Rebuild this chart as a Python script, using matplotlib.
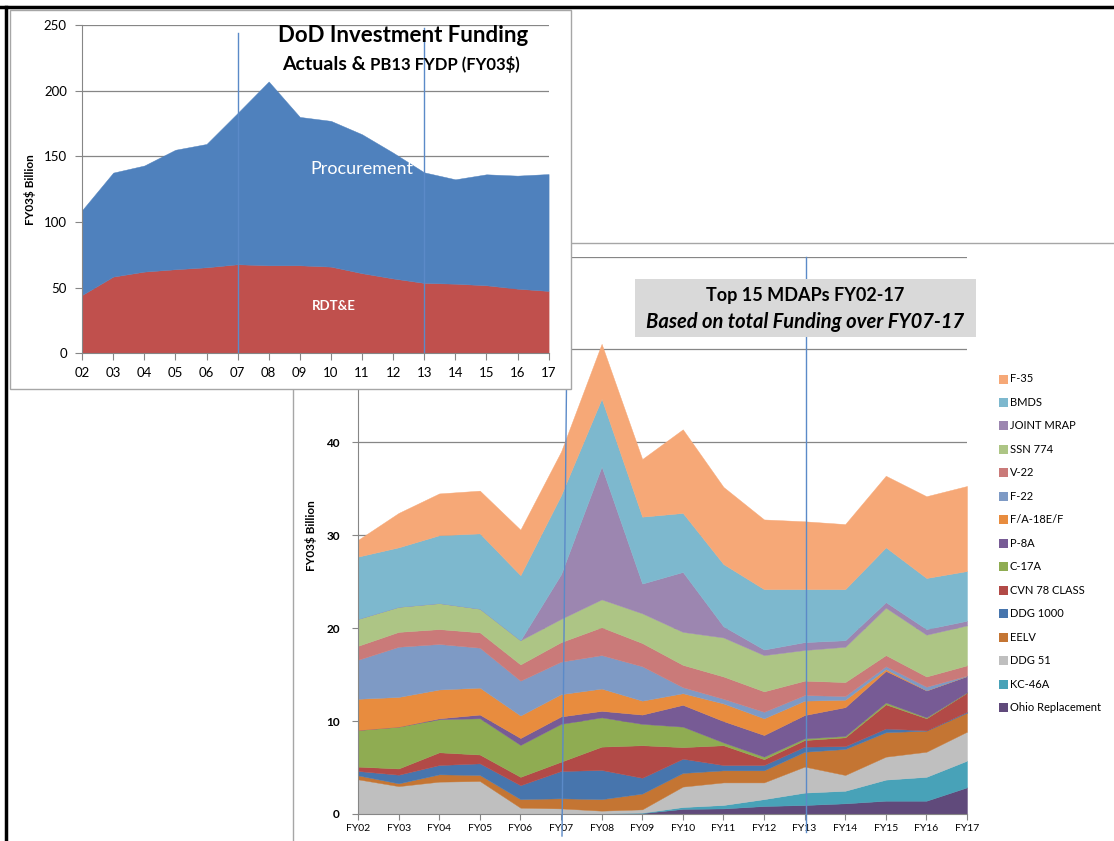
import matplotlib
matplotlib.use("Agg")
import matplotlib.pyplot as plt
from matplotlib.patches import Rectangle
from matplotlib.lines import Line2D

plt.rcParams['font.family'] = ['Lato', 'DejaVu Sans']

# ---- inset: DoD investment funding (FY03$ billion) ----
inset_years = ['02', '03', '04', '05', '06', '07', '08', '09',
               '10', '11', '12', '13', '14', '15', '16', '17']
rdte = [44.4, 58.4, 62.2, 64.0, 65.5, 67.8, 67.0, 67.0,
        66.0, 61.0, 57.0, 53.6, 53.0, 51.8, 49.2, 47.5]
procurement = [64.6, 79.2, 80.8, 91.0, 93.9, 115.2, 140.0, 113.0,
               111.0, 105.8, 95.8, 84.2, 79.5, 84.5, 86.1, 89.0]

# ---- main chart: top 15 MDAPs (FY03$ billion), bottom of stack first ----
fiscal_years = ['FY02', 'FY03', 'FY04', 'FY05', 'FY06', 'FY07', 'FY08', 'FY09',
                'FY10', 'FY11', 'FY12', 'FY13', 'FY14', 'FY15', 'FY16', 'FY17']
ohio = [0, 0, 0, 0, 0, 0, 0.05, 0.1, 0.55, 0.6, 0.86, 0.97, 1.15, 1.43, 1.43, 2.87]
kc46a = [0, 0, 0, 0, 0, 0, 0, 0.05, 0.2, 0.37, 0.74, 1.33, 1.35, 2.27, 2.57, 2.87]
ddg51 = [3.73, 3.0, 3.48, 3.55, 0.68, 0.6, 0.31, 0.35, 2.2, 2.43, 1.8, 2.8, 1.7, 2.47, 2.7, 3.12]
eelv = [0.43, 0.3, 0.79, 0.65, 0.92, 1.09, 1.24, 1.7, 1.47, 1.3, 1.3, 1.6, 2.8, 2.63, 2.27, 2.04]
ddg1000 = [0.47, 0.93, 1.0, 1.25, 1.5, 2.94, 3.14, 1.7, 1.53, 0.57, 0.57, 0.55, 0.3, 0.4, 0.03, 0.1]
cvn78 = [0.47, 0.67, 1.37, 0.95, 0.9, 1.0, 2.51, 3.5, 1.25, 2.13, 0.63, 0.71, 0.95, 2.6, 1.3, 2.06]
c17a = [3.94, 4.5, 3.56, 3.9, 3.43, 4.07, 3.15, 2.3, 2.2, 0.3, 0.27, 0.18, 0.15, 0.2, 0.1, 0.04]
p8a = [0, 0, 0.1, 0.4, 0.75, 0.8, 0.7, 1.0, 2.35, 2.3, 2.33, 2.51, 3.1, 3.4, 2.9, 1.75]
fa18ef = [3.36, 3.2, 3.1, 2.9, 2.42, 2.4, 2.4, 1.5, 1.25, 1.9, 1.8, 1.55, 0.8, 0.2, 0, 0]
f22 = [4.2, 5.4, 4.9, 4.3, 3.75, 3.5, 3.6, 3.7, 0.65, 0.5, 0.7, 0.6, 0.4, 0.3, 0.4, 0.05]
v22 = [1.5, 1.6, 1.6, 1.65, 1.75, 2.1, 3.0, 2.5, 2.4, 2.4, 2.2, 1.55, 1.5, 1.2, 1.1, 1.1]
ssn774 = [2.9, 2.7, 2.8, 2.55, 2.6, 2.5, 3.0, 3.2, 3.55, 4.2, 3.9, 3.3, 3.8, 5.1, 4.5, 4.3]
mrap = [0, 0, 0, 0, 0, 4.8, 14.3, 3.2, 6.45, 1.2, 0.6, 0.85, 0.7, 0.6, 0.6, 0.5]
bmds = [6.7, 6.4, 7.3, 8.1, 7.0, 8.5, 7.3, 7.2, 6.35, 6.7, 6.5, 5.7, 5.5, 5.9, 5.5, 5.35]
f35 = [1.8, 3.7, 4.5, 4.6, 4.9, 4.7, 5.9, 6.2, 9.0, 8.3, 7.5, 7.3, 7.0, 7.7, 8.8, 9.15]

programs = ['Ohio Replacement', 'KC-46A', 'DDG 51', 'EELV', 'DDG 1000', 'CVN 78 CLASS',
            'C-17A', 'P-8A', 'F/A-18E/F', 'F-22', 'V-22', 'SSN 774', 'JOINT MRAP',
            'BMDS', 'F-35']
series = [ohio, kc46a, ddg51, eelv, ddg1000, cvn78, c17a, p8a, fa18ef, f22, v22,
          ssn774, mrap, bmds, f35]
colors = ['#604A7B', '#48A2B8', '#BFBFBF', '#C47533', '#4775AD', '#B24A47',
          '#8FAC52', '#775B95', '#E88C3E', '#7E9AC5', '#CA7A79', '#ADC585',
          '#9C86B0', '#7DB8CE', '#F6A877']

W, H = 1114, 841


def fx(px):
    return px / W


def fy(py):
    return 1 - py / H


fig = plt.figure(figsize=(W / 100, H / 100), dpi=100)
grid_c = '#868686'

# ---- main stacked area chart ----
ax = fig.add_axes([fx(358), fy(814), (967 - 358) / W, (814 - 256.5) / H])
ax.set_zorder(0)
x = list(range(len(fiscal_years)))
ax.stackplot(x, *series, colors=colors, edgecolor='face', linewidth=0.3, zorder=2)
ax.set_xlim(0, 15)
ax.set_ylim(0, 60)
ax.set_yticks(range(0, 61, 10))
ax.set_xticks(x)
ax.set_xticklabels(fiscal_years, fontsize=7.5)
for lab in ax.get_yticklabels():
    lab.set_fontsize(8.5)
    lab.set_fontweight('bold')
ax.yaxis.grid(True, color=grid_c, lw=0.9, zorder=0)
ax.set_axisbelow(True)
for s in ['top', 'right']:
    ax.spines[s].set_visible(False)
for s in ['left', 'bottom']:
    ax.spines[s].set_color(grid_c)
ax.tick_params(axis='y', length=4, color=grid_c, pad=9)
ax.tick_params(axis='x', length=4, color=grid_c, pad=3)
ax.set_ylabel('FY03$ Billion', fontsize=8.5, fontweight='bold')
ax.yaxis.set_label_coords(-0.068, 0.5)

# chart frame of the main chart
fig.add_artist(Line2D([fx(293), 1], [fy(242.5), fy(242.5)], color='#A6A6A6', lw=1, zorder=0.5))
fig.add_artist(Line2D([fx(293), fx(293)], [fy(242.5), 0], color='#A6A6A6', lw=1, zorder=0.5))

# hand-drawn marker lines at FY07 / FY13
fig.add_artist(Line2D([fx(566.5), fx(562)], [fy(385), fy(836)], color='#5B8AC8', lw=1, zorder=1.5))
fig.add_artist(Line2D([fx(806), fx(806)], [fy(257), fy(832)], color='#5B8AC8', lw=1, zorder=1.5))

# title box
fig.add_artist(Rectangle((fx(634.6), fy(336.7)), (976 - 634.6) / W, (336.7 - 279) / H,
                         transform=fig.transFigure, facecolor='#D9D9D9', edgecolor='none',
                         zorder=1.6))
fig.text(fx(805), fy(296), 'Top 15 MDAPs FY02-17', fontsize=13, fontweight='bold',
         ha='center', va='center', zorder=1.7)
fig.text(fx(805), fy(322), 'Based on total Funding over FY07-17', fontsize=14.5,
         fontweight='bold', style='italic', ha='center', va='center', zorder=1.7)

# legend (top entry first)
for i, (name, col) in enumerate(zip(programs[::-1], colors[::-1])):
    yc = 379 + i * 23.48
    fig.add_artist(Rectangle((fx(999.3), fy(yc + 4.5)), 9 / W, 9 / H,
                             transform=fig.transFigure, facecolor=col, edgecolor='none'))
    fig.text(fx(1010), fy(yc), name, fontsize=8, ha='left', va='center')

# ---- inset chart ----
fig.add_artist(Rectangle((fx(9.5), fy(388.5)), (571 - 9.5) / W, (388.5 - 10) / H,
                         transform=fig.transFigure, facecolor='white', edgecolor='#A6A6A6',
                         lw=1, zorder=2))
axi = fig.add_axes([fx(82.1), fy(353.3), (548.6 - 82.1) / W, (353.3 - 25) / H])
axi.set_zorder(3)
axi.patch.set_alpha(0)
xi = list(range(len(inset_years)))
axi.stackplot(xi, rdte, procurement, colors=['#C0504D', '#4F81BD'],
              edgecolor='face', linewidth=0.3, zorder=2)
axi.set_xlim(0, 15)
axi.set_ylim(0, 250)
axi.set_yticks(range(0, 251, 50))
axi.set_xticks(xi)
axi.set_xticklabels(inset_years, fontsize=9.5)
for lab in axi.get_yticklabels():
    lab.set_fontsize(9.5)
axi.yaxis.grid(True, color=grid_c, lw=0.9, zorder=0)
axi.set_axisbelow(True)
for s in ['top', 'right']:
    axi.spines[s].set_visible(False)
for s in ['left', 'bottom']:
    axi.spines[s].set_color(grid_c)
axi.tick_params(axis='both', length=5, color=grid_c)
axi.tick_params(axis='y', pad=6)
axi.tick_params(axis='x', pad=5)
axi.set_ylabel('FY03$ Billion', fontsize=8.5, fontweight='bold')
axi.yaxis.set_label_coords(-0.098, 0.5)
axi.plot([5, 5], [0, 244], color='#5B8AC8', lw=1, zorder=3)
axi.plot([11, 11], [0, 248], color='#5B8AC8', lw=1, zorder=3)
axi.text(9.0, 140, 'Procurement', color='white', fontsize=13, ha='center', va='center', zorder=4)
axi.text(8.1, 36, 'RDT&E', color='white', fontsize=9.5, fontweight='bold',
         ha='center', va='center', zorder=4)

fig.text(fx(402.7), fy(36), 'DoD Investment Funding', fontsize=16, fontweight='bold',
         ha='center', va='center', zorder=4)
fig.text(fx(366), fy(64.5), 'Actuals &', fontsize=14, fontweight='bold',
         ha='right', va='center', zorder=4)
fig.text(fx(370), fy(64.5), 'PB13 FYDP (FY03$)', fontsize=12, fontweight='bold',
         ha='left', va='center', zorder=4)

# black slide frame at top and left
fig.add_artist(Line2D([0, 1], [fy(6.5), fy(6.5)], color='black', lw=2.5, zorder=5))
fig.add_artist(Line2D([fx(6), fx(6)], [fy(6.5), 0], color='black', lw=2.5, zorder=5))

fig.savefig('out.png', dpi=100)
